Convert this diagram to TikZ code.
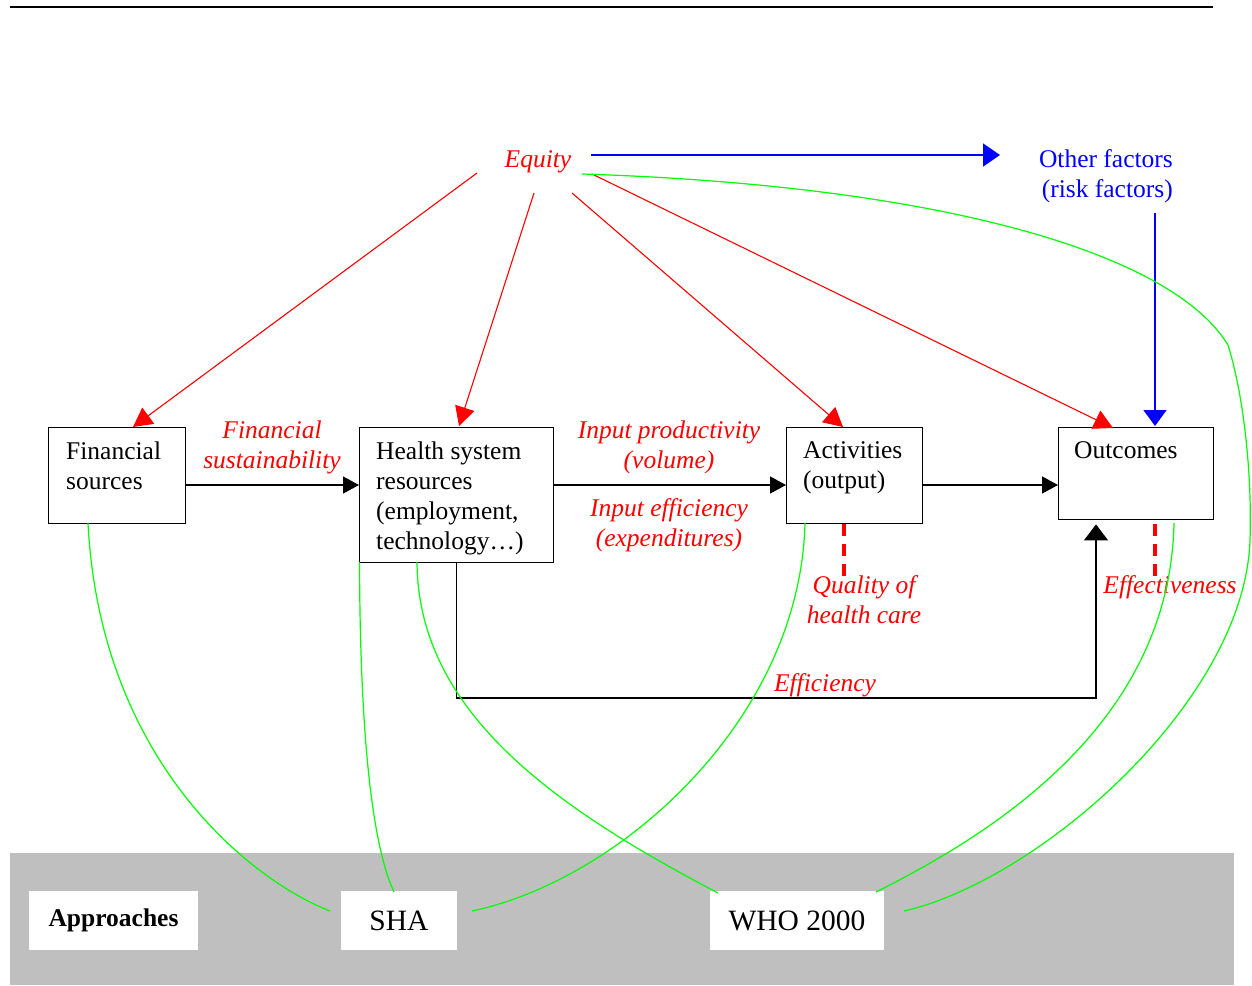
\documentclass[tikz,border=0pt]{standalone}
\usepackage{fontspec}
\setmainfont{Liberation Serif}
\usetikzlibrary{arrows.meta}
\definecolor{lgreen}{RGB}{0,255,0}
\definecolor{lred}{RGB}{255,0,0}
\definecolor{lblue}{RGB}{0,0,255}
\definecolor{bandgray}{RGB}{191,191,191}
\tikzset{
  box/.style={draw=black, line width=1.4pt, fill=white, inner sep=0pt, anchor=north west},
  btxt/.style={font=\fontsize{25.5pt}{30pt}\selectfont, align=left, anchor=north west, inner sep=0pt},
  rlab/.style={font=\fontsize{25.5pt}{30pt}\selectfont\itshape, text=lred, align=center, anchor=north, inner sep=0pt},
  blab/.style={font=\fontsize{25.5pt}{30pt}\selectfont, text=lblue, align=right, anchor=north east, inner sep=0pt},
  apbox/.style={fill=white, inner sep=0pt, minimum height=59pt},
  blk/.style={draw=black, line width=1.4pt, -{Triangle[length=16pt,width=17pt]}},
  redarr/.style={draw=lred, line width=1.1pt, -{Triangle[length=19pt,width=20pt]}},
  bluearr/.style={draw=lblue, line width=1.6pt, -{Triangle[length=17pt,width=23pt]}},
  bluedown/.style={draw=lblue, line width=1.6pt, -{Triangle[length=16pt,width=23pt]}},
  gline/.style={draw=lgreen, line width=1.2pt},
  qdash/.style={draw=lred, line width=4pt, dash pattern=on 12pt off 8pt},
}
\begin{document}
\begin{tikzpicture}[x=1pt,y=-1pt]
\useasboundingbox (0,0) rectangle (1252,985);
% top rule
\coordinate (rl) at (10,7);
\coordinate (rr) at (1213,7);
\draw[line width=1.6pt] (rl) -- (rr);
% approaches band
\fill[bandgray] (10,853) rectangle (1234,985);
\node[apbox, minimum width=169pt, font=\fontsize{25.5pt}{30pt}\selectfont\bfseries] (appr) at (113.5,920.5) {Approaches};
\node[apbox, minimum width=116pt, font=\fontsize{29.5pt}{34pt}\selectfont] (sha) at (399,920.5) {SHA};
\node[apbox, minimum width=174pt, font=\fontsize{29.5pt}{34pt}\selectfont] (who) at (797,920.5) {WHO 2000};
% boxes
\node[box, minimum width=137pt, minimum height=96pt] (fin) at (48,427) {};
\node[box, minimum width=194pt, minimum height=135pt] (hs) at (359,427) {};
\node[box, minimum width=136pt, minimum height=96pt] (act) at (786,427) {};
\node[box, minimum width=155pt, minimum height=92pt] (out) at (1058,427) {};
\node[btxt] (finT) at (66,441.5) {Financial\\sources};
\node[btxt] (hsT) at (376,441.5) {Health system\\resources\\(employment,\\technology…)};
\node[btxt] (actT) at (803,441.5) {Activities\\(output)};
\node[btxt] (outT) at (1074,441.5) {Outcomes};
% top labels
\node[rlab] (eq) at (538,150.5) {Equity};
\node[blab] (oth) at (1173,149.5) {Other factors\\(risk factors)};
% red labels
\node[rlab] (fsus) at (272,420.5) {Financial\\sustainability};
\node[rlab] (iprod) at (669,420.5) {Input productivity\\(volume)};
\node[rlab] (ieff) at (669,498.5) {Input efficiency\\(expenditures)};
\node[rlab] (qual) at (864,575.5) {Quality of\\health care};
\node[rlab] (effy) at (825,673.5) {Efficiency};
\node[rlab] (effv) at (1170,575.5) {Effectiveness};
% main flow arrows
\coordinate (ly) at (0,485);
\draw[blk] (fin.east |- ly) -- (hs.west |- ly);
\draw[blk] (hs.east |- ly) -- (act.west |- ly);
\draw[blk] (act.east |- ly) -- (out.west |- ly);
% efficiency loop
\coordinate (effc) at (1096,698);
\draw[draw=black, line width=1.4pt, -{Triangle[length=16pt,width=24pt]}, shorten >=4pt] (hs.south) |- (effc) -- (out.south -| effc);
% equity arrows
\coordinate (eq1) at (477,173);
\coordinate (eq2) at (534,193);
\coordinate (eq3) at (572,193);
\coordinate (eq4) at (592,174);
\coordinate (t1) at (133,427);
\coordinate (t2) at (459,426);
\coordinate (t3) at (843,427);
\coordinate (t4) at (1113,428);
\draw[redarr] (eq1) -- (t1);
\draw[redarr] (eq2) -- (t2);
\draw[redarr] (eq3) -- (t3);
\draw[redarr] (eq4) -- (t4);
% blue arrows
\coordinate (bs) at (591,155);
\coordinate (be) at (1000,155);
\draw[bluearr] (bs) -- (be);
\coordinate (bd1) at (1155,213);
\coordinate (bd2) at (1155,426);
\draw[bluedown] (bd1) -- (bd2);
% dashed red
\coordinate (dq1) at (844,524);
\coordinate (dq2) at (844,579);
\coordinate (de1) at (1155,524);
\coordinate (de2) at (1155,579);
\draw[qdash] (dq1) -- (dq2);
\draw[qdash] (de1) -- (de2);
% green curves
\coordinate (g1a) at (88,523);
\coordinate (g1b) at (330,911);
\draw[gline] (g1a) .. controls (100,760) and (250,880) .. (g1b);
\coordinate (g2a) at (359.5,562);
\coordinate (g2b) at (394,892);
\draw[gline] (g2a) .. controls (360,720) and (370,840) .. (g2b);
\coordinate (g3a) at (417,562);
\coordinate (g3b) at (718,893);
\draw[gline] (g3a) .. controls (418,710) and (550,805) .. (g3b);
\coordinate (g4a) at (805,523);
\coordinate (g4b) at (472,911);
\draw[gline] (g4a) .. controls (800,720) and (620,880) .. (g4b);
\coordinate (g5a) at (1174,523);
\coordinate (g5b) at (876,892);
\draw[gline] (g5a) .. controls (1170,720) and (1000,830) .. (g5b);
\coordinate (g6a) at (582,174);
\coordinate (g6k) at (1228,345);
\coordinate (g6m) at (1250,540);
\coordinate (g6b) at (904,911);
\draw[gline] (g6a) .. controls (930,185) and (1170,250) .. (g6k)
  .. controls (1245,400) and (1252,480) .. (g6m)
  .. controls (1245,700) and (1040,880) .. (g6b);
\end{tikzpicture}
\end{document}
